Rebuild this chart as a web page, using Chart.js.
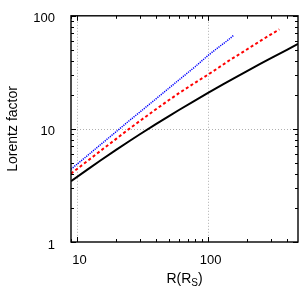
<!DOCTYPE html>
<html>
<head>
  <script src="https://cdn.jsdelivr.net/npm/chart.js@4/dist/chart.umd.min.js"></script>
  <style>
    body { margin: 0; background: #fff; }
  </style>
</head>
<body>
  <canvas id="myChart" width="308" height="300"></canvas>
  <script type="text/javascript">
    // values (R in Schwarzschild radii, Lorentz factor)
    var rBlack = [9, 12, 15, 20, 25, 30, 40, 50, 60, 80, 100, 130, 165, 200, 250, 300, 400, 486];
    var gBlack = [3.45, 4.37, 5.23, 6.55, 7.78, 8.92, 11.0, 12.9, 14.7, 17.9, 20.8, 24.8, 28.9, 32.6, 37.5, 42.0, 50.0, 56.5];

    var rRed = [9, 12, 15, 20, 25, 30, 40, 50, 60, 80, 100, 120, 147, 180, 220, 260, 300, 350];
    var gRed = [4.02, 5.2, 6.35, 8.2, 10.0, 11.7, 14.9, 17.9, 20.7, 25.7, 30.2, 34.7, 40.7, 47.0, 54.5, 61.5, 68.1, 75.8];

    var rBlue = [9, 12, 15, 20, 25, 30, 40, 50, 60, 80, 100, 120, 140, 156];
    var gBlue = [4.4, 5.8, 7.2, 9.5, 11.8, 14.0, 18.4, 22.8, 27.1, 35.6, 44.6, 52.6, 60.2, 66.8];

    var xTicks = [10, 100];
    var yTicks = [1, 10, 100];

    function pairs(xs, ys) {
      return xs.map(function(x, i) { return { x: x, y: ys[i] }; });
    }

    // gnuplot-like frame, dotted grid and inward ticks
    var framePlugin = {
      id: 'frame',
      beforeDatasetsDraw: function(chart) {
        var ctx = chart.ctx, a = chart.chartArea;
        var xs = chart.scales.x, ys = chart.scales.y;
        ctx.save();
        ctx.strokeStyle = '#b0b0b0';
        ctx.lineWidth = 1;
        ctx.setLineDash([1, 2]);
        xTicks.forEach(function(v) {
          var px = Math.round(xs.getPixelForValue(v)) + 0.5;
          ctx.beginPath(); ctx.moveTo(px, a.top); ctx.lineTo(px, a.bottom); ctx.stroke();
        });
        [10].forEach(function(v) {
          var py = Math.round(ys.getPixelForValue(v)) + 0.5;
          ctx.beginPath(); ctx.moveTo(a.left, py); ctx.lineTo(a.right, py); ctx.stroke();
        });
        ctx.restore();
      },
      afterDatasetsDraw: function(chart) {
        var ctx = chart.ctx, a = chart.chartArea;
        var xs = chart.scales.x, ys = chart.scales.y;
        ctx.save();
        ctx.strokeStyle = '#000';
        ctx.lineWidth = 1;
        ctx.setLineDash([]);
        // ticks
        for (var d = 1; d <= 1000; d *= 10) {
          for (var m = 1; m < 10; m++) {
            var v = d * m;
            var len = (m === 1) ? 5 : 3;
            if (v >= xs.min && v <= xs.max) {
              var px = Math.round(xs.getPixelForValue(v)) + 0.5;
              ctx.beginPath();
              ctx.moveTo(px, a.bottom); ctx.lineTo(px, a.bottom - len);
              ctx.moveTo(px, a.top); ctx.lineTo(px, a.top + len);
              ctx.stroke();
            }
            if (v >= ys.min && v <= ys.max) {
              var py = Math.round(ys.getPixelForValue(v)) + 0.5;
              ctx.beginPath();
              ctx.moveTo(a.left, py); ctx.lineTo(a.left + len, py);
              ctx.moveTo(a.right, py); ctx.lineTo(a.right - len, py);
              ctx.stroke();
            }
          }
        }
        ctx.lineWidth = 1.4;
        ctx.strokeRect(a.left, a.top, a.right - a.left, a.bottom - a.top);
        ctx.restore();
      },
      afterDraw: function(chart) {
        var ctx = chart.ctx, a = chart.chartArea;
        ctx.save();
        ctx.fillStyle = '#000';
        // y title
        ctx.font = '14px "Liberation Sans", Arial, sans-serif';
        ctx.textAlign = 'center';
        ctx.textBaseline = 'middle';
        ctx.translate(13, (a.top + a.bottom) / 2);
        ctx.rotate(-Math.PI / 2);
        ctx.fillText('Lorentz factor', 0, 0);
        ctx.setTransform(1, 0, 0, 1, 0, 0);
        // x title R(R_S)
        var main1 = 'R(R', sub = 'S', main2 = ')';
        ctx.textAlign = 'left';
        ctx.textBaseline = 'alphabetic';
        ctx.font = '14px "Liberation Sans", Arial, sans-serif';
        var w1 = ctx.measureText(main1).width, w3 = ctx.measureText(main2).width;
        ctx.font = '10px "Liberation Sans", Arial, sans-serif';
        var w2 = ctx.measureText(sub).width;
        var x0 = (a.left + a.right) / 2 - (w1 + w2 + w3) / 2;
        var base = 283;
        ctx.font = '14px "Liberation Sans", Arial, sans-serif';
        ctx.fillText(main1, x0, base);
        ctx.font = '10px "Liberation Sans", Arial, sans-serif';
        ctx.fillText(sub, x0 + w1, base + 3);
        ctx.font = '14px "Liberation Sans", Arial, sans-serif';
        ctx.fillText(main2, x0 + w1 + w2, base);
        ctx.restore();
      }
    };

    var ctx = document.getElementById('myChart').getContext('2d');
    var chart = new Chart(ctx, {
      type: 'line',
      data: {
        datasets: [{
          label: 'blue',
          data: pairs(rBlue, gBlue),
          borderColor: '#0000ff',
          borderWidth: 1.5,
          borderDash: [1.2, 1],
          pointRadius: 0,
          fill: false
        }, {
          label: 'red',
          data: pairs(rRed, gRed),
          borderColor: '#ff0000',
          borderWidth: 2,
          borderDash: [3, 2.5],
          pointRadius: 0,
          fill: false
        }, {
          label: 'black',
          data: pairs(rBlack, gBlack),
          borderColor: '#000000',
          borderWidth: 2,
          pointRadius: 0,
          fill: false
        }]
      },
      options: {
        responsive: false,
        animation: false,
        layout: { padding: { top: 14, right: 10, left: 0, bottom: 0 } },
        plugins: { legend: { display: false }, tooltip: { enabled: false } },
        scales: {
          x: {
            type: 'logarithmic',
            min: 9,
            max: 486,
            afterBuildTicks: function(s) { s.ticks = xTicks.map(function(v) { return { value: v }; }); },
            afterFit: function(s) { s.height = 58; },
            grid: { display: false },
            border: { display: false },
            ticks: {
              color: '#000',
              font: { family: '"Liberation Sans", Arial, sans-serif', size: 13 },
              padding: 3,
              labelOffset: 2.5,
              maxRotation: 0,
              callback: function(v) { return String(v); }
            }
          },
          y: {
            type: 'logarithmic',
            min: 1,
            max: 100,
            afterBuildTicks: function(s) { s.ticks = yTicks.map(function(v) { return { value: v }; }); },
            afterFit: function(s) { s.width = 71; },
            grid: { display: false },
            border: { display: false },
            ticks: {
              color: '#000',
              font: { family: '"Liberation Sans", Arial, sans-serif', size: 13 },
              padding: 8,
              labelOffset: 3,
              callback: function(v) { return String(v); }
            }
          }
        }
      },
      plugins: [framePlugin]
    });
  </script>
</body>
</html>
